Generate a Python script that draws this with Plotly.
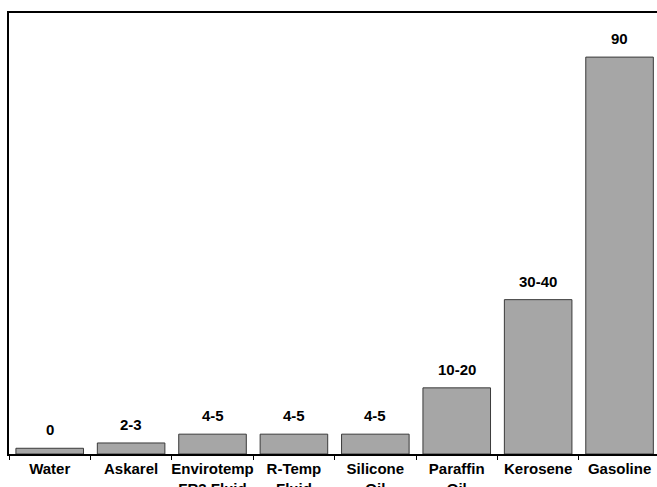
import plotly.graph_objects as go

categories = ["Water", "Askarel", "Envirotemp<br>FR3 Fluid", "R-Temp<br>Fluid",
              "Silicone<br>Oil", "Paraffin<br>Oil", "Kerosene", "Gasoline"]
values = [1.3, 2.5, 4.5, 4.5, 4.5, 15, 35, 90]
bar_labels = ["0", "2-3", "4-5", "4-5", "4-5", "10-20", "30-40", "90"]

fig = go.Figure()
fig.add_trace(go.Bar(
    x=categories, y=values,
    marker=dict(color="#A6A6A6", line=dict(color="#3A3A3A", width=1)),
    width=0.83,
    hoverinfo="skip",
))

for c, v, t in zip(categories, values, bar_labels):
    fig.add_annotation(x=c, y=v, text=t, showarrow=False, yanchor="bottom",
                       yshift=8, font=dict(family="Liberation Sans", size=15, color="#000000"))

fig.update_layout(
    width=657, height=487,
    margin=dict(l=9, r=0, t=13, b=33, autoexpand=False),
    paper_bgcolor="white", plot_bgcolor="white",
    showlegend=False,
    font=dict(family="Liberation Sans", size=15, color="#000000"),
    xaxis=dict(
        range=[-0.5, 7.46], showline=True, linecolor="#000000", linewidth=2,
        mirror=True, ticks="outside", tickson="boundaries", ticklen=4,
        tickcolor="#000000", showgrid=False, zeroline=False,
        tickangle=0, automargin=False,
        tickfont=dict(family="Liberation Sans", size=15, color="#000000"),
    ),
    yaxis=dict(
        range=[0, 100], showline=True, linecolor="#000000", linewidth=2,
        showticklabels=False, showgrid=False, zeroline=False, ticks="",
        automargin=False,
    ),
)
fig.update_xaxes(tickfont_weight="bold")
for a in fig.layout.annotations:
    a.font.weight = "bold"

fig.write_html(
    "out.html",
    config={"displayModeBar": False, "staticPlot": True},
    post_script="document.body.style.margin='0';document.body.style.overflow='hidden';",
)
